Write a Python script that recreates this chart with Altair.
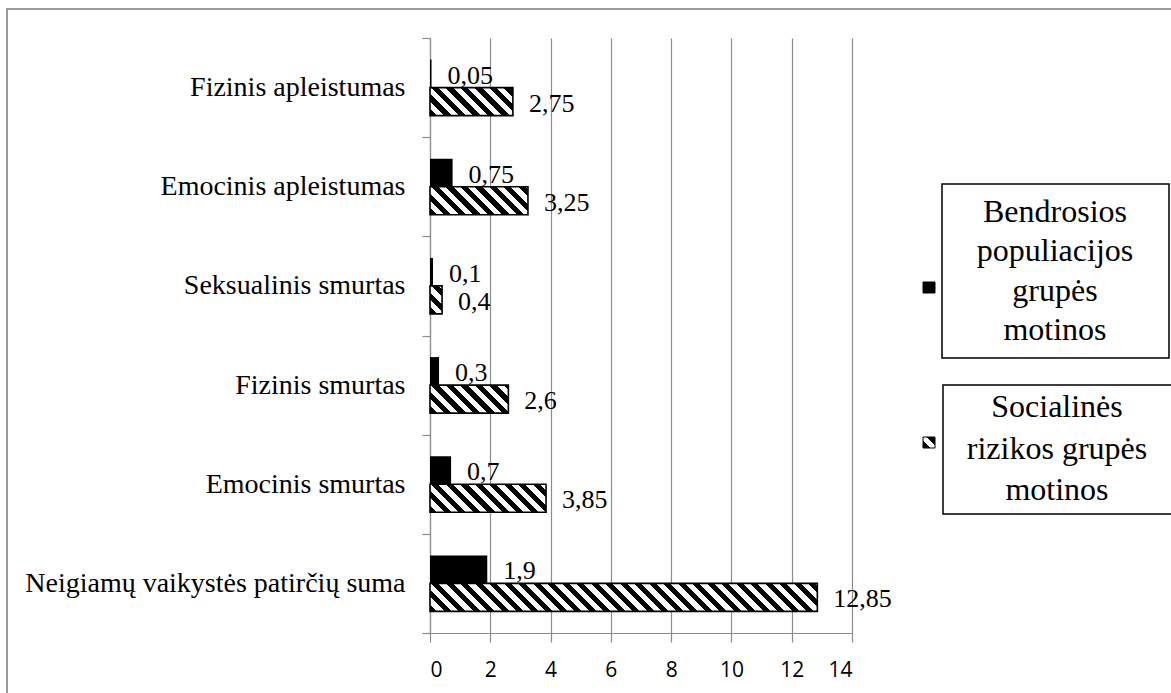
import altair as alt

# ---------------- data ----------------
categories = [
    "Fizinis apleistumas",
    "Emocinis apleistumas",
    "Seksualinis smurtas",
    "Fizinis smurtas",
    "Emocinis smurtas",
    "Neigiamų vaikystės patirčių suma",
]
series = [
    "Bendrosios populiacijos grupės motinos",
    "Socialinės rizikos grupės motinos",
]
general_values = [0.05, 0.75, 0.1, 0.3, 0.7, 1.9]
risk_values = [2.75, 3.25, 0.4, 2.6, 3.85, 12.85]
legend_lines = [
    ["Bendrosios", "populiacijos", "grupės", "motinos"],
    ["Socialinės", "rizikos grupės", "motinos"],
]
x_ticks = [0, 2, 4, 6, 8, 10, 12, 14]

# ---------------- layout / style ----------------
W, H = 422, 595
XMAX = 14
BAR_H = 28
PX = W / XMAX
GRID = "#8c8c8c"
SERIF = "Liberation Serif, Times New Roman, DejaVu Serif, serif"


def hatch(w, h, L=460.0, P=14.5):
    """Diagonal ( \\ ) stripe fill as a linear gradient in the bar's bounding box."""
    stops = []
    k = 0
    while k * P < L:
        a = round(k * P / L, 5)
        b = round(min((k * P + P / 2) / L, 1), 5)
        c = round(min((k + 1) * P / L, 1), 5)
        stops += [
            {"offset": a, "color": "#000000"},
            {"offset": b, "color": "#000000"},
            {"offset": b, "color": "#ffffff"},
            {"offset": c, "color": "#ffffff"},
        ]
        k += 1
    d = w * w + h * h
    return {
        "gradient": "linear",
        "x1": 0,
        "y1": 1,
        "x2": round(L * w / d, 5),
        "y2": round(1 - L * h / d, 5),
        "stops": stops,
    }


rows = []
for c, g, r in zip(categories, general_values, risk_values):
    rows.append({"category": c, "series": series[0], "value": g})
    rows.append({"category": c, "series": series[1], "value": r,
                 "grad": hatch(r * PX, BAR_H)})

data = alt.Data(values=rows)

pad_outer = ((H / len(categories)) / BAR_H - 2) / 2

y_enc = alt.Y(
    "category:N",
    sort=categories,
    scale=alt.Scale(domain=categories, paddingInner=0, paddingOuter=0),
    axis=alt.Axis(
        title=None,
        labelFont=SERIF,
        labelFontSize=28,
        labelColor="#000000",
        labelPadding=17,
        labelLimit=700,
        tickBand="extent",
        tickSize=8,
        tickColor=GRID,
        tickWidth=1.2,
        domainColor=GRID,
        domainWidth=1.2,
        grid=False,
    ),
)
yoff_enc = alt.YOffset(
    "series:N",
    sort=series,
    scale=alt.Scale(domain=series, paddingInner=0, paddingOuter=pad_outer),
)
x_enc = alt.X(
    "value:Q",
    stack=None,
    scale=alt.Scale(domain=[0, XMAX], nice=False, zero=True),
    axis=alt.Axis(
        title=None,
        values=x_ticks,
        grid=True,
        gridColor=GRID,
        gridWidth=1.2,
        domainColor=GRID,
        domainWidth=1.2,
        tickColor=GRID,
        tickWidth=1.2,
        tickSize=9,
        labelFont="Open Sans",
        labelFontSize=21,
        labelColor="#000000",
        labelPadding=17,
    ),
)

base = alt.Chart(data).encode(y=y_enc, yOffset=yoff_enc, x=x_enc)

black_bars = base.transform_filter(
    alt.datum.series == series[0]
).mark_bar(color="#000000", fill="#000000")

hatched_bars = base.transform_filter(
    alt.datum.series == series[1]
).mark_bar(stroke="#000000", strokeWidth=1.6).encode(
    fill=alt.Fill("grad:N", scale=None, legend=None)
)

labels = base.transform_calculate(
    label="replace(toString(datum.value), '.', ',')"
).mark_text(
    align="left", baseline="middle", dx=16, dy=2,
    font=SERIF, fontSize=26, color="#000000",
).encode(text="label:N")

# outer chart frame
frame = alt.Chart(alt.Data(values=[{}])).mark_rect(
    fillOpacity=0, stroke="#9a9a9a", strokeWidth=2
).encode(
    x=alt.value(7 - 430), x2=alt.value(1171 - 430 + 10),
    y=alt.value(9 - 38), y2=alt.value(693 - 38 + 10),
)

# legend (boxes, symbols, text)
legend_layers = []
boxes = [(512, 739, 146, 320), (513, 745, 347, 476)]
symbols = [(493, 505, 244, 255), (493, 505, 399, 410)]
text_pos = [(625, 174, 39.3), (627, 369, 41.5)]
for i in range(2):
    bx0, bx1, by0, by1 = boxes[i]
    legend_layers.append(
        alt.Chart(alt.Data(values=[{}])).mark_rect(
            fillOpacity=0, stroke="#000000", strokeWidth=1.5
        ).encode(x=alt.value(bx0), x2=alt.value(bx1),
                 y=alt.value(by0), y2=alt.value(by1))
    )
    sx0, sx1, sy0, sy1 = symbols[i]
    sym_fill = "#000000" if i == 0 else hatch(sx1 - sx0, sy1 - sy0, L=60, P=14.5)
    legend_layers.append(
        alt.Chart(alt.Data(values=[{}])).mark_rect(
            fill=sym_fill, stroke="#000000", strokeWidth=1
        ).encode(x=alt.value(sx0), x2=alt.value(sx1),
                 y=alt.value(sy0), y2=alt.value(sy1))
    )
    tx, ty, lh = text_pos[i]
    legend_layers.append(
        alt.Chart(alt.Data(values=[{}])).mark_text(
            text=legend_lines[i], align="center", baseline="middle",
            font=SERIF, fontSize=32, lineHeight=lh, color="#000000",
        ).encode(x=alt.value(tx), y=alt.value(ty))
    )

chart = alt.layer(
    frame, black_bars, hatched_bars, labels, *legend_layers
).properties(
    width=W,
    height=H,
    autosize=alt.AutoSizeParams(type="none"),
    padding={"left": 430, "top": 38, "right": 1171 - 430 - W, "bottom": 693 - 38 - H},
    background="#ffffff",
).configure_view(strokeWidth=0)

chart.save("out.html", embed_options={"renderer": "svg", "actions": False})
